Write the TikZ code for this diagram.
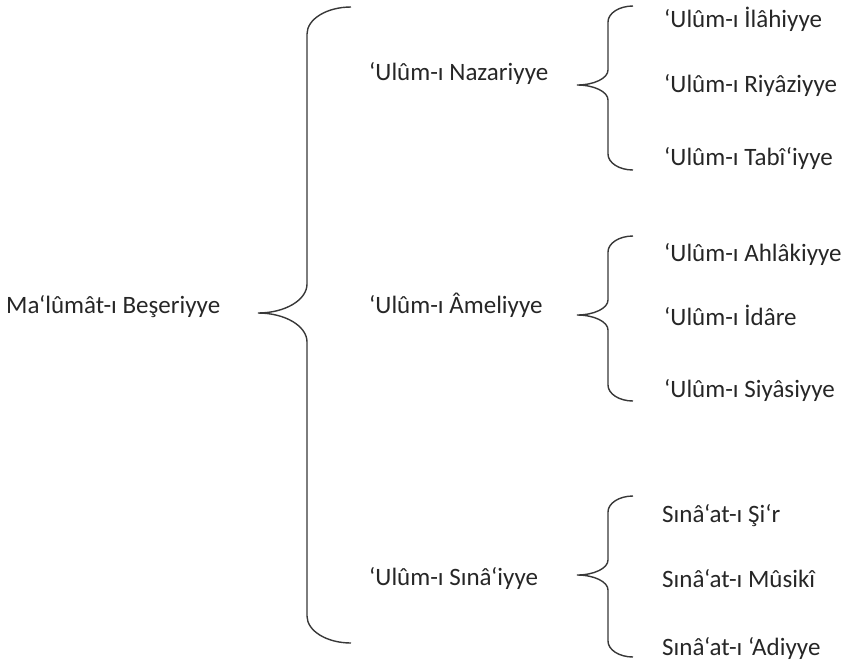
\documentclass[tikz,border=0pt]{standalone}
\usepackage{fontspec}
\setmainfont{Carlito}

% curly brace opening to the right:
% #1 tip x of the ends, #2 x of the vertical strokes, #3 x of the middle tip,
% #4 top y, #5 middle y, #6 bottom y, #7 radius at the ends, #8 radius at the middle
\newcommand{\curlybrace}[8]{%
  \draw[bracestroke]
    (#1,#4) .. controls ({#1-0.552*(#1-#2)},#4) and (#2,{#4+0.448*#7}) .. (#2,{#4+#7})
    -- (#2,{#5-#8})
    .. controls (#2,{#5-0.448*#8}) and ({#3+0.552*(#2-#3)},#5) .. (#3,#5)
    .. controls ({#3+0.552*(#2-#3)},#5) and (#2,{#5+0.448*#8}) .. (#2,{#5+#8})
    -- (#2,{#6-#7})
    .. controls (#2,{#6-0.448*#7}) and ({#1-0.552*(#1-#2)},#6) .. (#1,#6);}

\begin{document}
\begin{tikzpicture}[x=1pt,y=-1pt,
  bracestroke/.style={draw=black!78,line width=1.4pt},
  label/.style={anchor=base west,inner sep=0pt,font=\fontsize{25}{30}\selectfont,text=black!85}]
\useasboundingbox (0,0) rectangle (843,665);

% root
\node[label] (root) at (6,313) {Ma‘lûmât-ı Beşeriyye};

% main brace
\curlybrace{351}{307}{258}{7}{313}{643}{27}{29}

% second level
\node[label] (naz) at (369,80)  {‘Ulûm-ı Nazariyye};
\node[label] (ame) at (369,313) {‘Ulûm-ı Âmeliyye};
\node[label] (sin) at (369,585) {‘Ulûm-ı Sınâ‘iyye};

% sub-braces
\curlybrace{633}{608}{577}{6}{85}{170}{16}{15}
\curlybrace{633}{608}{577}{236}{315}{401}{16}{15}
\curlybrace{633}{608}{577}{496}{575}{657}{16}{15}

% third level
\node[label] (ila) at (664,27)  {‘Ulûm-ı İlâhiyye};
\node[label] (riy) at (664,92)  {‘Ulûm-ı Riyâziyye};
\node[label] (tab) at (664,165) {‘Ulûm-ı Tabî‘iyye};

\node[label] (ahl) at (664,261) {‘Ulûm-ı Ahlâkiyye};
\node[label] (ida) at (664,325) {‘Ulûm-ı İdâre};
\node[label] (siy) at (664,397) {‘Ulûm-ı Siyâsiyye};

\node[label] (sir) at (662,522) {Sınâ‘at-ı Şi‘r};
\node[label] (mus) at (662,587) {Sınâ‘at-ı Mûsikî};
\node[label] (adi) at (662,655) {Sınâ‘at-ı ‘Adiyye};
\end{tikzpicture}
\end{document}
